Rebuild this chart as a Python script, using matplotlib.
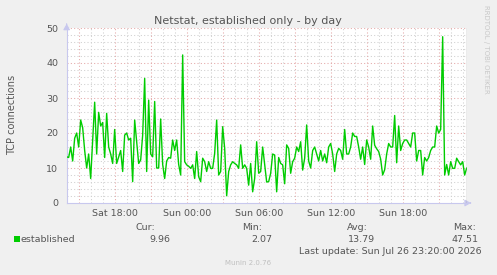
import matplotlib
matplotlib.use("Agg")
import matplotlib.pyplot as plt
import numpy as np

# ---------------- data (10-minute samples, Sat 14:00 -> Sun 23:20) ----------------
start_hour = 14.0          # hours since Sat 00:00
step_hours = 1.0 / 6.0
established = [
    # Sat 14:00 ...
    13.2, 13.0, 16.0, 12.0, 18.5, 20.0, 16.0, 23.7, 21.5, 15.0,
    10.0, 14.0, 7.0, 18.0, 28.8, 14.0, 25.9, 22.0, 23.0, 13.0,
    25.6, 16.0, 14.0, 11.3, 21.0, 11.3, 13.2, 15.0, 9.0, 19.4,
    20.0, 18.0, 18.5, 6.1, 23.7, 17.5, 11.3, 12.3, 19.4, 35.6,
    9.0,
    29.4, 14.0, 13.2, 29.0, 10.0, 10.0, 24.0, 11.0, 7.0, 12.0,
    13.0, 12.8, 18.0, 15.0, 18.0, 11.0, 8.0, 42.3, 11.8, 10.9,
    10.5, 9.9, 10.9, 7.0, 14.7, 7.5, 6.1, 12.8, 11.8, 9.0,
    11.8, 9.9, 9.9, 14.2, 23.7, 8.0, 9.0, 21.8, 15.6, 2.07,
    9.0, 10.9, 11.8, 11.3, 10.9, 9.9, 16.6, 9.9, 10.9, 9.9,
    5.1, 11.3, 3.2, 7.0, 17.5, 8.5, 9.0, 16.0, 10.9, 6.0,
    6.1, 8.5, 14.0, 13.7, 3.2, 13.0, 11.3, 10.9, 5.5, 16.6,
    15.6, 8.5, 11.8, 12.8, 16.0, 14.7, 17.5, 9.4, 12.8, 22.3,
    12.0, 10.0, 15.0, 16.0, 14.0, 12.0, 15.0, 12.0, 14.0, 11.5,
    16.0, 17.0, 14.0, 9.0, 14.0, 15.6, 15.0, 12.5, 21.0, 14.0,
    14.0, 16.0, 20.0, 19.0, 19.0, 16.0, 12.5, 16.0, 11.0, 18.0,
    16.0, 12.5, 22.0, 16.5, 15.5, 14.7, 12.5, 8.0, 9.5, 14.0,
    17.0, 16.0, 16.0, 25.0, 11.5, 22.0, 15.0, 17.0, 18.0, 18.0,
    17.0, 16.0, 20.0, 20.0, 12.0, 15.0, 15.0, 8.0, 13.0, 12.0,
    13.0, 15.0, 16.0, 16.0, 22.0, 20.0, 21.0, 47.51, 8.0, 11.0,
    8.0, 11.8, 9.9, 9.9, 12.8, 11.8, 10.9, 11.8, 8.0, 9.96,
]
tick_hours = [18, 24, 30, 36, 42]
tick_labels = ["Sat 18:00", "Sun 00:00", "Sun 06:00", "Sun 12:00", "Sun 18:00"]
y_ticks = [0, 10, 20, 30, 40, 50]
legend_name = "established"
stat_titles = ["Cur:", "Min:", "Avg:", "Max:"]
stat_values = ["9.96", "2.07", "13.79", "47.51"]

# ---------------- layout ----------------
W, H = 497, 275
fig = plt.figure(figsize=(W / 100, H / 100), dpi=100)
fig.patch.set_facecolor("#F0F0F0")
plt.rcParams["font.family"] = ["DejaVu Sans"]

def fx(x):
    return x / W

def fy(y):
    return 1 - y / H

L, R, T, B = 66.67, 466.67, 28.0, 203.0
ax = fig.add_axes([fx(L), fy(B), fx(R) - fx(L), fy(T) - fy(B)])
ax.set_facecolor("white")

n = len(established)
t = start_hour + step_hours * np.arange(n)
end_hour = start_hour + step_hours * (n - 1)
ax.set_xlim(start_hour, end_hour)
ax.set_ylim(0, 50)

# grid
minor_col = "#CFCFCF"
major_col = "#E4A8A8"
dots = (0, (1.0, 2.2))
for h in np.arange(15, end_hour, 1.0):
    if h % 3 == 0:
        continue
    ax.axvline(h, color=minor_col, lw=0.75, ls=dots, zorder=1)
for v in np.arange(2, 50, 2):
    if v % 10 == 0:
        continue
    ax.axhline(v, color=minor_col, lw=0.75, ls=dots, zorder=1)
for h in np.arange(15, end_hour, 3.0):
    ax.axvline(h, color=major_col, lw=0.75, ls=dots, zorder=1.1)
for v in range(10, 51, 10):
    ax.axhline(v, color=major_col, lw=0.75, ls=dots, zorder=1.1)

ax.plot(t, established, color="#00CC00", lw=1.0, zorder=3)

for s in ["top", "right"]:
    ax.spines[s].set_visible(False)
ax.spines["left"].set_color("#C8C8EE")
ax.spines["bottom"].set_color("#C8C8EE")
ax.spines["left"].set_linewidth(0.8)
ax.spines["bottom"].set_linewidth(0.8)
ax.axvline(end_hour, color="#999999", lw=1.0, zorder=4)

ax.set_xticks(tick_hours)
ax.set_xticklabels(tick_labels)
ax.set_yticks(y_ticks)
ax.tick_params(axis="both", length=0, labelsize=6.8, colors="#555555", pad=4)
ax.tick_params(axis="y", pad=6)

# arrows on axes
ax.annotate("", xy=(fx(L), fy(T - 7)), xytext=(fx(L), fy(T - 1)),
            xycoords="figure fraction",
            arrowprops=dict(arrowstyle="-|>,head_length=0.35,head_width=0.2", color="#C8C8EE", lw=0.8))
ax.annotate("", xy=(fx(R + 7), fy(B)), xytext=(fx(R + 1), fy(B)),
            xycoords="figure fraction",
            arrowprops=dict(arrowstyle="-|>,head_length=0.35,head_width=0.2", color="#C8C8EE", lw=0.8))

txt = "#555555"
fig.text(fx(248), fy(21), "Netstat, established only - by day", ha="center", va="center",
         fontsize=8, color="#555555")
fig.text(fx(12), fy(115), "TCP connections", rotation=90, ha="center", va="center",
         fontsize=7, color=txt)
fig.text(fx(486), fy(5), "RRDTOOL / TOBI OETIKER", rotation=270, ha="center", va="top",
         fontsize=5, color="#C8C8C8")

# legend
fig.patches.append(plt.Rectangle((fx(14), fy(242)), fx(6), 6 / H, transform=fig.transFigure,
                                 facecolor="#00CC00", edgecolor="none"))
fig.text(fx(20.5), fy(239), legend_name, ha="left", va="center", fontsize=6.8, color=txt)
title_x = [155, 262, 368, 476]
value_x = [170, 272, 375, 479]
for tx, vx, st, sv in zip(title_x, value_x, stat_titles, stat_values):
    fig.text(fx(tx), fy(227), st, ha="right", va="center", fontsize=6.8, color=txt)
    fig.text(fx(vx), fy(239), sv, ha="right", va="center", fontsize=6.8, color=txt)
fig.text(fx(482), fy(251), "Last update: Sun Jul 26 23:20:00 2026", ha="right", va="center",
         fontsize=6.8, color=txt)
fig.text(fx(248), fy(263), "Munin 2.0.76", ha="center", va="center", fontsize=5, color="#C0C0C0")

fig.savefig("out.png", dpi=100, facecolor=fig.get_facecolor())
